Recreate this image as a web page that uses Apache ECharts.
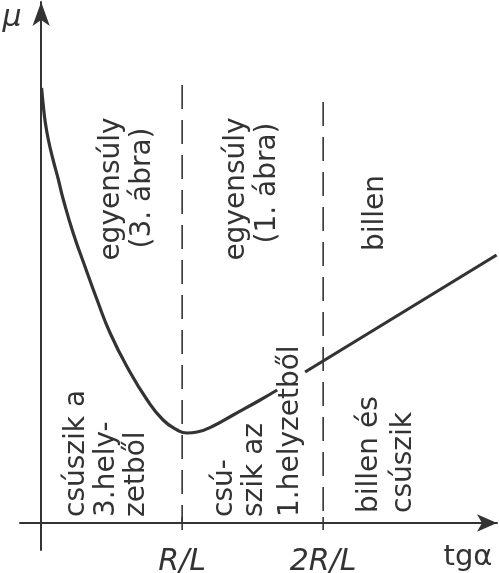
<!DOCTYPE html>
<html>
<head>
<meta charset="utf-8">
<script src="https://cdn.jsdelivr.net/npm/echarts@6/dist/echarts.min.js"></script>
<style>
html,body{margin:0;padding:0;background:#fff;}
#c{width:499px;height:573px;}
</style>
</head>
<body>
<div id="c"></div>
<script>
// x in units of R/L, y = mu (arbitrary units)
var curveLeftX = [0.003, 0.014, 0.028, 0.050, 0.085, 0.121, 0.156, 0.227, 0.312, 0.397, 0.489, 0.610, 0.752, 0.865, 0.965, 1.035, 1.106, 1.234, 1.362, 1.553, 1.674];
var curveLeftY = [4.35, 4.19, 4.02, 3.84, 3.63, 3.44, 3.24, 2.90, 2.56, 2.23, 1.90, 1.56, 1.23, 1.03, 0.93, 0.90, 0.91, 0.98, 1.08, 1.23, 1.33];
var curveRightX = [1.872, 3.23];
var curveRightY = [1.51, 2.68];
var boundaryX = [1, 2];
var boundaryTop = [4.38, 4.21];
var tickLabels = ['R/L', '2R/L'];

var ink = '#333333';
var fam = '"DejaVu Sans", sans-serif';

function zip(xs, ys){ return xs.map(function(x,i){ return [x, ys[i]]; }); }

var series = [
  { type:'line', data: zip(curveLeftX, curveLeftY), smooth:0.5, symbol:'none',
    lineStyle:{color:ink, width:3.2}, z:3 },
  { type:'line', data: zip(curveRightX, curveRightY), symbol:'none',
    lineStyle:{color:ink, width:3.2}, z:3 }
];
boundaryX.forEach(function(bx, i){
  series.push({ type:'line', data:[[bx,boundaryTop[i]],[bx,0]], symbol:'none',
    lineStyle:{color:ink, width:1.6, type:[24,11]}, z:2 });
  series.push({ type:'line', data:[[bx,0.06],[bx,-0.07]], symbol:'none', clip:false,
    lineStyle:{color:ink, width:1.6}, z:2 });
});

var rot = Math.PI/2;
function vtext(t, x, y, align){
  return { type:'text', x:x, y:y, rotation:rot,
    style:{ text:t, fill:ink, font:'28px ' + fam, fontSize:28, fontFamily:fam,
      align:align, textAlign:align, verticalAlign:'middle', textVerticalAlign:'middle' } };
}
var labels = [
  vtext('egyensúly', 112, 189, 'center'),
  vtext('(3. ábra)', 143, 188, 'center'),
  vtext('egyensúly', 237, 189, 'center'),
  vtext('(1. ábra)', 268, 183, 'center'),
  vtext('billen', 376, 213, 'center'),
  vtext('csúszik a', 77, 517, 'left'),
  vtext('3.hely-', 107, 517, 'left'),
  vtext('zetből', 137, 517, 'left'),
  vtext('csú-', 225, 517, 'left'),
  vtext('szik az', 255, 517, 'left'),
  vtext('1.helyzetből', 291, 517, 'left'),
  vtext('billen és', 370, 513, 'left'),
  vtext('csúszik', 404, 513, 'left'),
  { type:'text', x:12, y:18, style:{ text:'μ', fill:ink, fontSize:30, fontStyle:'italic', fontFamily:fam,
      font:'italic 30px ' + fam, align:'center', textAlign:'center', verticalAlign:'middle', textVerticalAlign:'middle' } },
  { type:'text', x:468, y:557, style:{ text:'tgα', fill:ink, fontSize:29, fontFamily:fam,
      font:'29px ' + fam, align:'center', textAlign:'center', verticalAlign:'middle', textVerticalAlign:'middle' } }
];

var chart = echarts.init(document.getElementById('c'), null, {renderer:'canvas'});
chart.setOption({
  backgroundColor:'#ffffff',
  animation:false,
  grid:{ left:20, right:2, top:2, bottom:23, containLabel:false, outerBoundsMode:'none' },
  xAxis:{ type:'value', min:-0.15, max:3.233,
    axisLine:{ onZero:true, lineStyle:{color:ink, width:2}, symbol:['none','arrow'], symbolSize:[13,20] },
    axisTick:{ show:false },
    axisLabel:{ show:true, customValues:boundaryX, margin:-3, color:ink, fontSize:30, fontStyle:'italic', fontFamily:fam,
      formatter:function(v){ var i = boundaryX.indexOf(v); return i >= 0 ? tickLabels[i] : ''; } },
    splitLine:{show:false} },
  yAxis:{ type:'value', min:-0.27, max:5.21,
    axisLine:{ show:true, onZero:true, lineStyle:{color:ink, width:2}, symbol:['none','arrow'], symbolSize:[13,24] },
    axisTick:{show:false}, axisLabel:{show:false}, splitLine:{show:false} },
  series: series,
  graphic: labels
});
</script>
</body>
</html>
